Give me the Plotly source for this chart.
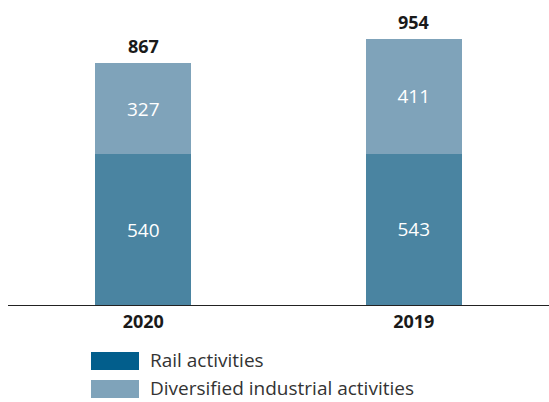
import plotly.graph_objects as go

years = ["2020", "2019"]
rail = [540, 543]
diversified = [327, 411]
totals = [r + d for r, d in zip(rail, diversified)]

rail_color = "#4a84a1"
rail_key_color = "#025e8c"
div_color = "#7fa3ba"
font_family = "Open Sans, Liberation Sans, Arial, sans-serif"

fig = go.Figure()
for vals, name, color in [(rail, "Rail activities", rail_color),
                          (diversified, "Diversified industrial activities", div_color)]:
    fig.add_trace(go.Bar(
        x=years, y=vals, name=name, marker_color=color, marker_line_width=0,
        width=0.355, text=vals, texttemplate="%{text}", textposition="inside",
        insidetextanchor="middle", textangle=0,
        textfont=dict(color="white", size=19, family=font_family, weight=500),
        showlegend=False,
    ))

# totals above each stack
for i, tot in enumerate(totals):
    fig.add_annotation(x=i, y=tot, xref="x", yref="y", text=f"<b>{tot}</b>",
                       showarrow=False, yanchor="bottom", yshift=3,
                       font=dict(size=18, color="#1a1a1a", family=font_family))

# legend drawn as swatches with labels
legend_items = [("Rail activities", rail_key_color), ("Diversified industrial activities", div_color)]
for i, (label, color) in enumerate(legend_items):
    y0 = 352 + i * 28
    fig.add_shape(type="rect", xref="paper", yref="paper",
                  x0=(91 - 8) / 541, x1=(139 - 8) / 541,
                  y0=(305 - (y0 + 18)) / 285, y1=(305 - y0) / 285,
                  fillcolor=color, line_width=0)
    fig.add_annotation(xref="paper", yref="paper", x=(148 - 8) / 541,
                       y=(305 - (y0 + 8)) / 285, text=label, showarrow=False,
                       xanchor="left", yanchor="middle",
                       font=dict(size=19, color="#333333", family=font_family))

fig.update_layout(
    barmode="stack",
    width=549, height=402,
    margin=dict(l=8, r=0, t=20, b=97),
    paper_bgcolor="white", plot_bgcolor="white",
    showlegend=False,
    xaxis=dict(type="category", showline=True, linecolor="#222222", linewidth=1,
               ticks="", tickfont=dict(size=18, color="#1a1a1a", family=font_family),
               tickprefix="<b>", ticksuffix="</b>", showgrid=False,
               range=[-0.5, 1.5]),
    yaxis=dict(visible=False, range=[0, 1022], showgrid=False),
)

fig.write_html("out.html")
